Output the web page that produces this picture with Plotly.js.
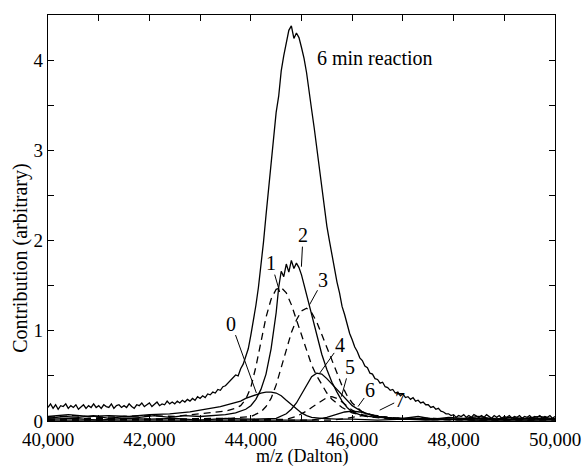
<!DOCTYPE html>
<html>
<head>
<meta charset="utf-8">
<script src="https://cdn.plot.ly/plotly-3.0.1.min.js"></script>
<style>html,body{margin:0;padding:0;background:#fff;}#chart{width:583px;height:469px;}</style>
</head>
<body>
<div id="chart"></div>
<script>
// ---- data ----
const mzMain = [
  40000,40050,40100,40150,40200,40250,40300,40350,40400,40450,40500,40550,40600,40650,40700,40750,40800,40850,40900,40950,
  41000,41050,41100,41150,41200,41250,41300,41350,41400,41450,41500,41550,41600,41650,41700,41750,41800,41850,41900,41950,
  42000,42050,42100,42150,42200,42250,42300,42350,42400,42450,42500,42550,42600,42650,42700,42750,42800,42850,42900,42950,
  43000,43050,43100,43150,43200,43250,43300,43350,43400,43450,43500,43550,43600,43650,43700,43750,43800,43850,43900,43950,
  44000,44050,44100,44150,44200,44250,44300,44350,44400,44450,44500,44550,44600,44650,44700,44750,44800,44850,44900,44950,
  45000,45050,45100,45150,45200,45250,45300,45350,45400,45450,45500,45550,45600,45650,45700,45750,45800,45850,45900,45950,
  46000,46050,46100,46150,46200,46250,46300,46350,46400,46450,46500,46550,46600,46650,46700,46750,46800,46850,46900,46950,
  47000,47050,47100,47150,47200,47250,47300,47350,47400,47450,47500,47550,47600,47650,47700,47750,47800,47850,47900,47950,
  48000,48050,48100,48150,48200,48250,48300,48350,48400,48450,48500,48550,48600,48650,48700,48750,48800,48850,48900,48950,
  49000,49050,49100,49150,49200,49250,49300,49350,49400,49450,49500,49550,49600,49650,49700,49750,49800,49850,49900,49950,
  50000];
const sixMinReaction = [
  0.15,0.19,0.14,0.18,0.13,0.17,0.16,0.19,0.14,0.17,0.15,0.18,0.13,0.16,0.18,0.14,0.17,0.15,0.19,0.15,
  0.17,0.14,0.18,0.16,0.15,0.19,0.14,0.17,0.18,0.15,0.17,0.15,0.19,0.16,0.14,0.18,0.17,0.20,0.16,0.18,
  0.20,0.16,0.18,0.21,0.17,0.19,0.18,0.22,0.19,0.21,0.19,0.22,0.20,0.23,0.21,0.24,0.22,0.25,0.23,0.27,
  0.25,0.28,0.26,0.30,0.29,0.32,0.31,0.35,0.34,0.38,0.39,0.42,0.45,0.47,0.51,0.50,0.58,0.63,0.72,0.80,
  0.95,1.10,1.28,1.48,1.72,1.98,2.28,2.55,2.85,3.15,3.42,3.60,3.88,4.05,4.20,4.33,4.38,4.24,4.30,4.25,
  4.14,4.02,3.86,3.68,3.45,3.25,3.02,2.80,2.58,2.36,2.16,2.00,1.84,1.70,1.54,1.42,1.27,1.18,1.06,0.97,
  0.90,0.82,0.77,0.70,0.67,0.61,0.59,0.53,0.52,0.47,0.46,0.42,0.43,0.38,0.37,0.34,0.35,0.31,0.32,0.28,
  0.30,0.26,0.27,0.24,0.26,0.22,0.23,0.20,0.21,0.18,0.18,0.15,0.16,0.13,0.14,0.11,0.10,0.08,0.08,0.06,
  0.07,0.04,0.06,0.05,0.07,0.04,0.06,0.04,0.07,0.05,0.04,0.06,0.04,0.07,0.05,0.03,0.06,0.04,0.06,0.03,
  0.05,0.04,0.06,0.03,0.05,0.04,0.06,0.03,0.05,0.04,0.06,0.03,0.05,0.04,0.06,0.03,0.05,0.04,0.06,0.03,
  0.05];

const mz0 = [40000,40400,40800,41200,41600,42000,42400,42800,43000,43200,43400,43600,43800,43900,44000,44100,44200,44300,44400,44500,44600,44700,44800,44900,45000,45100,45200,45400,45700,46000,46500,47000,47500,48000,48500,49000,49500,50000];
const comp0 = [0.05,0.07,0.05,0.06,0.05,0.07,0.08,0.10,0.12,0.14,0.16,0.19,0.22,0.25,0.27,0.29,0.31,0.32,0.32,0.31,0.28,0.23,0.18,0.13,0.09,0.06,0.04,0.03,0.02,0.02,0.01,0.02,0.01,0.02,0.01,0.02,0.01,0.02];

const mz1 = [40000,40500,41000,41500,42000,42500,43000,43300,43500,43700,43800,43900,44000,44100,44200,44300,44400,44500,44600,44700,44800,44900,45000,45100,45200,45300,45400,45500,45600,45800,46000,46300,46600,47000,47500,48000,48500,49000,49500,50000];
const comp1 = [0.04,0.06,0.04,0.05,0.06,0.05,0.08,0.09,0.11,0.14,0.17,0.24,0.37,0.60,0.88,1.15,1.35,1.46,1.48,1.42,1.29,1.12,0.94,0.77,0.62,0.50,0.40,0.31,0.24,0.15,0.09,0.05,0.04,0.03,0.03,0.02,0.03,0.02,0.03,0.02];

const mz2 = [40000,40300,40600,40900,41200,41500,41800,42100,42400,42700,43000,43500,43700,43900,44000,44100,44200,44300,44400,44500,44550,44600,44650,44700,44750,44800,44850,44900,44950,45000,45100,45200,45300,45400,45500,45600,45700,45800,45900,46000,46200,46500,47000,47300,47600,47900,48200,48500,48800,49100,49400,49700,50000];
const comp2 = [0.03,0.05,0.04,0.06,0.03,0.05,0.04,0.06,0.04,0.06,0.05,0.07,0.09,0.13,0.17,0.24,0.35,0.52,0.80,1.20,1.48,1.66,1.60,1.74,1.65,1.78,1.69,1.75,1.70,1.62,1.40,1.18,0.95,0.74,0.57,0.43,0.32,0.22,0.15,0.10,0.06,0.04,0.03,0.05,0.02,0.04,0.03,0.05,0.02,0.04,0.03,0.05,0.02];

const mz3 = [40000,41000,42000,43000,43600,44000,44200,44300,44400,44500,44600,44700,44800,44900,45000,45100,45200,45300,45400,45500,45600,45700,45800,45900,46000,46200,46500,47000,48000,49000,50000];
const comp3 = [0.02,0.03,0.02,0.03,0.03,0.05,0.10,0.16,0.25,0.40,0.60,0.80,0.98,1.12,1.22,1.25,1.20,1.10,0.96,0.82,0.67,0.52,0.39,0.28,0.20,0.10,0.05,0.03,0.02,0.03,0.02];

const mz4 = [40000,40500,41000,41500,42000,42500,43000,43500,44000,44500,44700,44800,44900,45000,45100,45200,45300,45400,45500,45600,45700,45800,45900,46000,46200,46400,46700,47000,47500,48000,48500,49000,49500,50000];
const comp4 = [0.02,0.03,0.01,0.03,0.02,0.03,0.01,0.03,0.02,0.03,0.08,0.13,0.20,0.30,0.40,0.49,0.53,0.52,0.47,0.41,0.34,0.28,0.22,0.17,0.10,0.06,0.03,0.02,0.03,0.02,0.03,0.01,0.03,0.02];

const mz5 = [40000,42000,44000,44700,44900,45000,45100,45200,45300,45400,45500,45600,45700,45800,45900,46000,46100,46300,46600,47000,48500,50000];
const comp5 = [0.01,0.02,0.01,0.02,0.05,0.08,0.11,0.15,0.19,0.23,0.26,0.27,0.25,0.21,0.16,0.12,0.09,0.05,0.03,0.02,0.01,0.02];

const mz6 = [40000,42000,44000,45200,45500,45700,45850,46000,46150,46300,46500,46800,47200,48500,50000];
const comp6 = [0.01,0.01,0.01,0.01,0.04,0.07,0.10,0.11,0.10,0.08,0.05,0.03,0.02,0.01,0.01];

const mz7 = [40000,43000,45600,45900,46100,46300,46500,46700,47000,48500,50000];
const comp7 = [0.01,0.01,0.01,0.03,0.05,0.07,0.06,0.04,0.02,0.01,0.01];

// component labels: text, label position, leader end
const compLabels = ['0','1','2','3','4','5','6','7'];
const labelX = [43617,44406,45030,45424,45753,45950,46345,46937];
const labelY = [1.08,1.75,2.06,1.56,0.84,0.60,0.34,0.23];
const leaderX = [44110,44570,44998,45160,45359,45787,46115,46542];
const leaderY = [0.31,1.43,1.71,1.29,0.53,0.27,0.16,0.12];

const xTickVals = [40000,41000,42000,43000,44000,45000,46000,47000,48000,49000,50000];
const xTickText = ['40,000','','42,000','','44,000','','46,000','','48,000','','50,000'];
const yTickVals = [0,0.5,1,1.5,2,2.5,3,3.5,4];
const yTickText = ['0','','1','','2','','3','','4'];

const titleMain = '6 min reaction';
const xTitle = 'm/z (Dalton)';
const yTitle = 'Contribution (arbitrary)';

// ---- drawing ----
const FONT = 'Liberation Serif, Times New Roman, serif';
const solid = {color:'#000', width:1.3};
const dashed = {color:'#000', width:1.3, dash:'7px,5px'};
function tr(x, y, line, name){ return {type:'scatter', mode:'lines', x:x, y:y, line:line, name:name, hoverinfo:'skip'}; }

const traces = [
  tr(mzMain, sixMinReaction, solid, titleMain),
  tr(mz0, comp0, solid, '0'),
  tr(mz1, comp1, dashed, '1'),
  tr(mz2, comp2, solid, '2'),
  tr(mz3, comp3, dashed, '3'),
  tr(mz4, comp4, solid, '4'),
  tr(mz5, comp5, dashed, '5'),
  tr(mz6, comp6, solid, '6'),
  tr(mz7, comp7, dashed, '7')
];

const annotations = compLabels.map((t,i) => ({
  x: leaderX[i], y: leaderY[i], xref:'x', yref:'y',
  ax: labelX[i], ay: labelY[i], axref:'x', ayref:'y',
  text: t, showarrow:true, arrowhead:0, arrowwidth:1, arrowcolor:'#000',
  standoff:0, startstandoff:0, borderpad:0,
  font:{family:FONT, size:20, color:'#000'}
}));
annotations.push({x:45260, y:4.02, xref:'x', yref:'y', xanchor:'left', yanchor:'middle',
  text:titleMain, showarrow:false, font:{family:FONT, size:20, color:'#000'}});
annotations.push({x:-0.055, y:0.40, xref:'paper', yref:'paper', xanchor:'center', yanchor:'middle',
  text:yTitle, textangle:-90, showarrow:false, font:{family:FONT, size:20, color:'#000'}});
annotations.push({x:0.5, y:-0.1158, xref:'paper', yref:'paper', xanchor:'center', yanchor:'bottom',
  text:xTitle, showarrow:false, borderpad:0, font:{family:FONT, size:18, color:'#000'}});

const axisCommon = {showline:true, linecolor:'#000', linewidth:1.2, mirror:'ticks', ticks:'inside',
  ticklen:6, tickwidth:1, tickcolor:'#000', showgrid:false, zeroline:false,
  tickfont:{family:FONT, size:19, color:'#000'}};

const layout = {
  width:583, height:469,
  margin:{l:48, r:28, t:15, b:48},
  paper_bgcolor:'#fff', plot_bgcolor:'#fff',
  showlegend:false,
  xaxis: Object.assign({}, axisCommon, {range:[40000,50000], tickmode:'array', tickvals:xTickVals, ticktext:xTickText,
    ticklabelstandoff:1}),
  yaxis: Object.assign({}, axisCommon, {range:[0,4.5], tickmode:'array', tickvals:yTickVals, ticktext:yTickText}),
  annotations: annotations
};

Plotly.newPlot('chart', traces, layout, {staticPlot:true, displayModeBar:false});
</script>
</body>
</html>
